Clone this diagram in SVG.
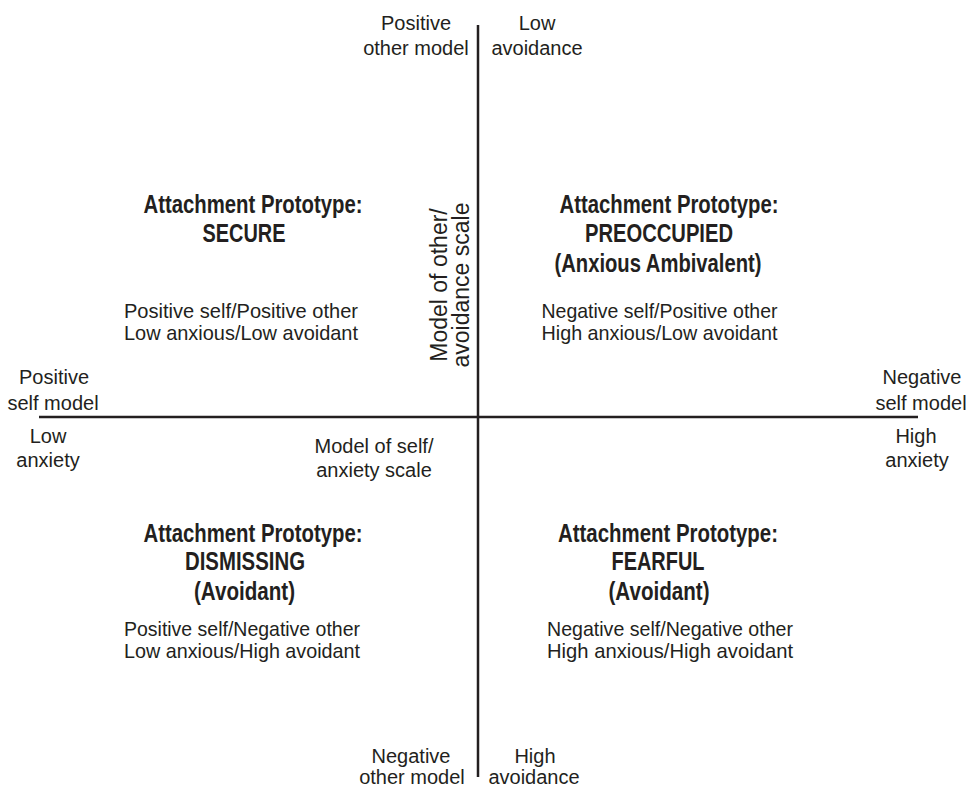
<svg xmlns="http://www.w3.org/2000/svg" width="968" height="789" viewBox="0 0 968 789">
  <style>
    .bg { fill: #ffffff; }
    .axis { stroke: #231f20; stroke-width: 2.5; fill: none; }
    text { fill: #231f20; font-family: "Liberation Sans", Arial, sans-serif; text-anchor: middle; }
    .lbl { font-size: 20px; }
    .body { font-size: 21px; }
    .head { font-size: 26px; font-weight: bold; }
    .scale { font-size: 23px; }
  </style>
  <rect class="bg" x="0" y="0" width="968" height="789"/>

  <!-- axes -->
  <g id="connectors">
    <line class="axis" x1="478" y1="25" x2="478" y2="777"/>
    <line class="axis" x1="39" y1="417" x2="918" y2="417"/>
  </g>

  <!-- axis end labels -->
  <g id="top-left-label">
    <text class="lbl" x="416" y="30">Positive</text>
    <text class="lbl" x="416" y="55">other model</text>
  </g>
  <g id="top-right-label">
    <text class="lbl" x="537" y="30">Low</text>
    <text class="lbl" x="537" y="55">avoidance</text>
  </g>
  <g id="bottom-left-label">
    <text class="lbl" x="411" y="763">Negative</text>
    <text class="lbl" x="412" y="784">other model</text>
  </g>
  <g id="bottom-right-label">
    <text class="lbl" x="535" y="763">High</text>
    <text class="lbl" x="534" y="784">avoidance</text>
  </g>
  <g id="left-label">
    <text class="lbl" x="54" y="384">Positive</text>
    <text class="lbl" x="53" y="410">self model</text>
    <text class="lbl" x="48" y="443">Low</text>
    <text class="lbl" x="48" y="467">anxiety</text>
  </g>
  <g id="right-label">
    <text class="lbl" x="922" y="384">Negative</text>
    <text class="lbl" x="921" y="410">self model</text>
    <text class="lbl" x="916" y="443">High</text>
    <text class="lbl" x="917" y="467">anxiety</text>
  </g>

  <!-- scale names -->
  <g id="self-scale">
    <text class="lbl" x="374" y="453">Model of self/</text>
    <text class="lbl" x="374" y="477">anxiety scale</text>
  </g>
  <g id="other-scale">
    <text class="scale" transform="translate(447,285) rotate(-90)" x="0" y="0">Model of other/</text>
    <text class="scale" transform="translate(469,285) rotate(-90)" x="0" y="0">avoidance scale</text>
  </g>

  <!-- quadrants -->
  <g id="secure">
    <text class="head" x="253" y="213" textLength="219" lengthAdjust="spacingAndGlyphs">Attachment Prototype:</text>
    <text class="head" x="244" y="242" textLength="83" lengthAdjust="spacingAndGlyphs">SECURE</text>
    <text class="body" x="241" y="318" textLength="234" lengthAdjust="spacingAndGlyphs">Positive self/Positive other</text>
    <text class="body" x="241" y="340" textLength="234" lengthAdjust="spacingAndGlyphs">Low anxious/Low avoidant</text>
  </g>
  <g id="preoccupied">
    <text class="head" x="669" y="213" textLength="219" lengthAdjust="spacingAndGlyphs">Attachment Prototype:</text>
    <text class="head" x="659" y="242" textLength="148" lengthAdjust="spacingAndGlyphs">PREOCCUPIED</text>
    <text class="head" x="658" y="272" textLength="207" lengthAdjust="spacingAndGlyphs">(Anxious Ambivalent)</text>
    <text class="body" x="659.5" y="318" textLength="236" lengthAdjust="spacingAndGlyphs">Negative self/Positive other</text>
    <text class="body" x="659.5" y="340" textLength="236" lengthAdjust="spacingAndGlyphs">High anxious/Low avoidant</text>
  </g>
  <g id="dismissing">
    <text class="head" x="253" y="542" textLength="219" lengthAdjust="spacingAndGlyphs">Attachment Prototype:</text>
    <text class="head" x="245" y="570" textLength="120" lengthAdjust="spacingAndGlyphs">DISMISSING</text>
    <text class="head" x="244.5" y="600" textLength="101" lengthAdjust="spacingAndGlyphs">(Avoidant)</text>
    <text class="body" x="242" y="636" textLength="236" lengthAdjust="spacingAndGlyphs">Positive self/Negative other</text>
    <text class="body" x="242" y="658" textLength="236" lengthAdjust="spacingAndGlyphs">Low anxious/High avoidant</text>
  </g>
  <g id="fearful">
    <text class="head" x="668" y="542" textLength="220" lengthAdjust="spacingAndGlyphs">Attachment Prototype:</text>
    <text class="head" x="658" y="570" textLength="93" lengthAdjust="spacingAndGlyphs">FEARFUL</text>
    <text class="head" x="659" y="600" textLength="101" lengthAdjust="spacingAndGlyphs">(Avoidant)</text>
    <text class="body" x="670" y="636" textLength="246" lengthAdjust="spacingAndGlyphs">Negative self/Negative other</text>
    <text class="body" x="670" y="658" textLength="246" lengthAdjust="spacingAndGlyphs">High anxious/High avoidant</text>
  </g>
</svg>
